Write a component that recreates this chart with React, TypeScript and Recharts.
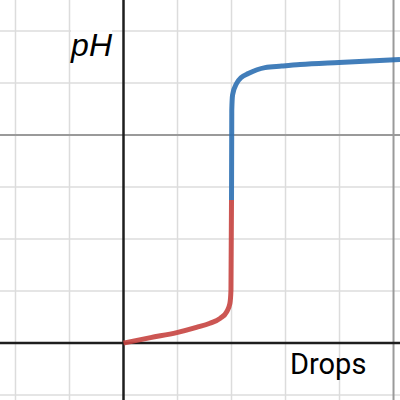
import React from 'react';
import { LineChart, Line, XAxis, YAxis, ReferenceLine } from 'recharts';

// acid part of the titration curve (drops, pH)
const redDrops = [0, 5, 9.85, 13.5, 16, 17.9, 19.1, 19.7, 19.9, 20];
const redPh = [0, 0.21, 0.4, 0.6, 0.76, 0.95, 1.2, 1.52, 2.04, 5.5];

// basic part after the equivalence point
const blueDrops = [20, 20.05, 20.2, 20.96, 21.8, 23.1, 26.2, 29.3, 32.7, 39.9, 51.2];
const bluePh = [5.5, 8.96, 9.54, 9.99, 10.21, 10.36, 10.59, 10.65, 10.71, 10.79, 10.9];

const minorX = [-20, -10, 10, 20, 30, 40];
const majorX = [50];
const minorY = [-2, 2, 4, 6, 10, 12];
const majorY = [8];

const xLabel = 'Drops';
const yLabel = 'pH';

const redData = redDrops.map((d, i) => ({ drops: d, ph: redPh[i] }));
const blueData = blueDrops.map((d, i) => ({ drops: d, ph: bluePh[i] }));

const App = () => {
  return (
    <div style={{ position: 'absolute', left: 0, top: 0, width: 400, height: 400, background: '#fff' }}>
      <LineChart width={400} height={400} margin={{ top: 0, right: 0, bottom: 0, left: 0 }}>
        <XAxis type="number" dataKey="drops" domain={[-22.87, 51.2]} allowDataOverflow hide />
        <YAxis type="number" dataKey="ph" domain={[-2.19, 13.19]} allowDataOverflow hide />

        {minorX.map(x => (
          <ReferenceLine key={`mx${x}`} x={x} stroke="#dcdcdc" strokeWidth={1.5} />
        ))}
        {minorY.map(y => (
          <ReferenceLine key={`my${y}`} y={y} stroke="#dcdcdc" strokeWidth={1.5} />
        ))}
        {majorX.map(x => (
          <ReferenceLine key={`Mx${x}`} x={x} stroke="#9a9a9a" strokeWidth={2} />
        ))}
        {majorY.map(y => (
          <ReferenceLine key={`My${y}`} y={y} stroke="#9a9a9a" strokeWidth={2} />
        ))}
        <ReferenceLine y={0} stroke="#1e1e1e" strokeWidth={2.5} />
        <ReferenceLine x={0} stroke="#1e1e1e" strokeWidth={2.5} />

        <Line
          data={redData}
          dataKey="ph"
          type="monotone"
          stroke="#c74440"
          strokeOpacity={0.9}
          strokeWidth={5}
          dot={false}
          activeDot={false}
          isAnimationActive={false}
        />
        <Line
          data={blueData}
          dataKey="ph"
          type="monotone"
          stroke="#2d70b3"
          strokeOpacity={0.9}
          strokeWidth={5}
          dot={false}
          activeDot={false}
          isAnimationActive={false}
        />
      </LineChart>
      <div
        style={{
          position: 'absolute',
          right: 288,
          top: 26,
          fontFamily: '"Liberation Sans", Arial, sans-serif',
          fontStyle: 'italic',
          fontSize: 32,
          lineHeight: '38px',
          color: '#000',
          background: 'rgba(255,255,255,0.8)',
        }}
      >
        {yLabel}
      </div>
      <div
        style={{
          position: 'absolute',
          left: 290,
          top: 348,
          fontFamily: 'Roboto, sans-serif',
          fontSize: 29,
          lineHeight: '32px',
          color: '#000',
        }}
      >
        {xLabel}
      </div>
    </div>
  );
};

export default App;
